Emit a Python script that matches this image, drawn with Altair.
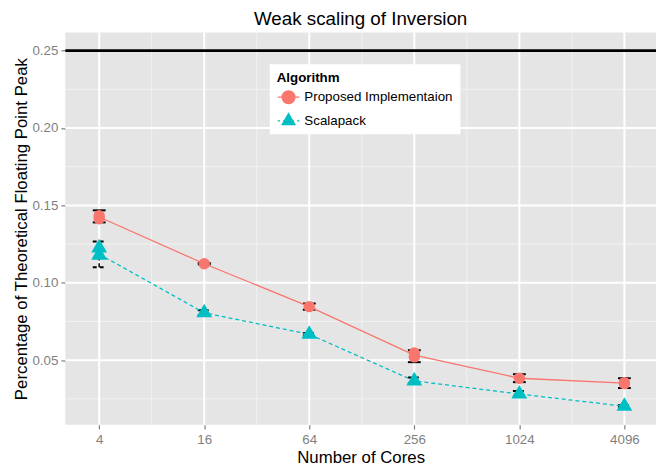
import altair as alt
import pandas as pd

# ---------------- data ----------------
cores = [4, 16, 64, 256, 1024, 4096]
algorithms = ["Proposed Implementaion", "Scalapack"]
colors = ["#F8766D", "#00BFC4"]

prop_mean = [0.1425, 0.1123, 0.0846, 0.0532, 0.0383, 0.0351]
prop_lo = [0.1390, 0.1119, 0.0826, 0.0487, 0.0358, 0.0320]
prop_hi = [0.1468, 0.1127, 0.0866, 0.0564, 0.0409, 0.0383]

scal_mean = [0.1185, 0.0806, 0.0667, 0.0366, 0.0281, 0.0202]
scal_lo = [0.1100, 0.0790, 0.0660, 0.0351, 0.0268, 0.0198]
scal_hi = [0.1266, 0.0822, 0.0675, 0.0388, 0.0300, 0.0208]

prop_pts_x = [4, 4, 16, 64, 256, 256, 1024, 4096, 4096]
prop_pts_y = [0.1433, 0.1414, 0.1123, 0.0846, 0.0546, 0.0521, 0.0383, 0.0355, 0.0348]
scal_pts_x = [4, 4, 16, 64, 256, 1024, 4096]
scal_pts_y = [0.1225, 0.1179, 0.0806, 0.0667, 0.0366, 0.0281, 0.0202]

peak = [0.25]
major_y = [0.05, 0.10, 0.15, 0.20, 0.25]
minor_y = [0.025, 0.075, 0.125, 0.175, 0.225]
minor_x = [8, 32, 128, 512, 2048]

# ---------------- tables ----------------
prop_df = pd.DataFrame({"cores": cores, "mean": prop_mean, "lo": prop_lo, "hi": prop_hi})
scal_df = pd.DataFrame({"cores": cores, "mean": scal_mean, "lo": scal_lo, "hi": scal_hi})
legend_df = pd.DataFrame({"Algorithm": algorithms, "cores": [cores[0]] * 2, "mean": [prop_mean[0], scal_mean[0]]})
prop_pts = pd.DataFrame({"cores": prop_pts_x, "val": prop_pts_y})
scal_pts = pd.DataFrame({"cores": scal_pts_x, "val": scal_pts_y})

FONT = "Liberation Sans"
GREY = "#7F7F7F"

xs = alt.Scale(type="log", base=2, domain=[2.558, 6216], nice=False)
ys = alt.Scale(domain=[0.0083, 0.2617], nice=False, zero=False)

xaxis = alt.Axis(values=cores, format="d", grid=False, domain=False,
                 tickColor=GREY, tickSize=4.5, tickWidth=1.2,
                 labelColor=GREY, labelFontSize=13.5, labelFont=FONT, labelPadding=4,
                 title="Number of Cores", titleFont=FONT, titleFontSize=17,
                 titleFontWeight="normal", titleColor="black", titlePadding=3)
yaxis = alt.Axis(values=major_y, format=".2f", grid=False, domain=False,
                 tickColor=GREY, tickSize=4.5, tickWidth=1.2,
                 labelColor=GREY, labelFontSize=13.5, labelFont=FONT, labelPadding=3,
                 title="Percentage of Theoretical Floating Point Peak", titleFont=FONT,
                 titleFontSize=17, titleFontWeight="normal", titleColor="black", titlePadding=1)


def X(field):
    return alt.X(field, type="quantitative", scale=xs, axis=xaxis)


def Y(field):
    return alt.Y(field, type="quantitative", scale=ys, axis=yaxis)


DASH = [4, 3]

# grid
gminor_y = alt.Chart(pd.DataFrame({"g": minor_y})).mark_rule(color="#F2F2F2", strokeWidth=1).encode(y=Y("g"))
gminor_x = alt.Chart(pd.DataFrame({"g": minor_x})).mark_rule(color="#F2F2F2", strokeWidth=1).encode(x=X("g"))
gmajor_y = alt.Chart(pd.DataFrame({"g": major_y})).mark_rule(color="white", strokeWidth=2).encode(y=Y("g"))
gmajor_x = alt.Chart(pd.DataFrame({"g": cores})).mark_rule(color="white", strokeWidth=2).encode(x=X("g"))


def errorbars(df, dash):
    extra = {"strokeDash": dash} if dash else {}
    v = alt.Chart(df).mark_rule(color="black", strokeWidth=1.5, **extra).encode(
        x=X("cores"), y=Y("lo"), y2="hi")
    lo = alt.Chart(df).mark_rule(color="black", strokeWidth=2, xOffset=-6.5, x2Offset=6.5, **extra).encode(
        x=X("cores"), x2=alt.X2("cores"), y=Y("lo"))
    hi = alt.Chart(df).mark_rule(color="black", strokeWidth=2, xOffset=-6.5, x2Offset=6.5, **extra).encode(
        x=X("cores"), x2=alt.X2("cores"), y=Y("hi"))
    return [v, lo, hi]


line_prop = alt.Chart(prop_df).mark_line(color=colors[0], strokeWidth=1.3).encode(x=X("cores"), y=Y("mean"))
line_scal = alt.Chart(scal_df).mark_line(color=colors[1], strokeWidth=1.3, strokeDash=DASH).encode(
    x=X("cores"), y=Y("mean"))

# points
TRI = "M0,-1.1547L1,0.5774L-1,0.5774Z"
p_prop = alt.Chart(prop_pts).mark_point(filled=True, shape="circle", size=133,
                                        color=colors[0], opacity=1).encode(x=X("cores"), y=Y("val"))
p_scal = alt.Chart(scal_pts).mark_point(filled=True, shape=TRI, size=256,
                                        color=colors[1], opacity=1).encode(x=X("cores"), y=Y("val"))

# peak line
hline = alt.Chart(pd.DataFrame({"p": peak})).mark_rule(color="black", strokeWidth=3).encode(y=Y("p"))

# legend (invisible marks, visible legend symbols)
LEG_CIRCLE = "M-1,0H1M0.59,0A0.59,0.59,0,1,1,-0.59,0A0.59,0.59,0,1,1,0.59,0Z"
LEG_TRI = "M-1,0H-0.78M-0.5,0H-0.28M0.28,0H0.5M0.78,0H1M0,-0.68L0.59,0.34L-0.59,0.34Z"
leg = alt.Legend(title="Algorithm", orient="none", legendX=207, legendY=32,
                 fillColor="white", padding=7, titleFont=FONT, titleFontSize=13.5,
                 titleFontWeight="bold", titleColor="black", titlePadding=1,
                 labelFont=FONT, labelFontSize=13.5, labelColor="black", labelOffset=4,
                 rowPadding=2, symbolSize=484, symbolStrokeWidth=1.3, symbolOpacity=1)
color_scale = alt.Scale(domain=algorithms, range=colors)
legend_layer = alt.Chart(legend_df).mark_point(
    filled=True, size=484, strokeWidth=1.3, opacity=0).encode(
    x=X("cores"), y=Y("mean"),
    fill=alt.Fill("Algorithm:N", scale=color_scale, legend=leg),
    stroke=alt.Stroke("Algorithm:N", scale=color_scale, legend=leg),
    shape=alt.Shape("Algorithm:N", scale=alt.Scale(domain=algorithms, range=[LEG_CIRCLE, LEG_TRI]), legend=leg))

chart = alt.layer(
    gminor_y, gminor_x, gmajor_y, gmajor_x,
    *errorbars(prop_df, None), *errorbars(scal_df, DASH),
    line_prop, line_scal, p_prop, p_scal, hline, legend_layer
).properties(
    width=598, height=397,
    title=alt.TitleParams("Weak scaling of Inversion", fontSize=19, font=FONT,
                          fontWeight="normal", color="black", offset=3, anchor="middle"),
    autosize=alt.AutoSizeParams(type="none"),
    padding={"left": 58, "top": 22, "right": 0, "bottom": 39},
).configure_view(fill="#E5E5E5", strokeWidth=0)

chart.save("out.html", embed_options={"renderer": "svg", "actions": False})
